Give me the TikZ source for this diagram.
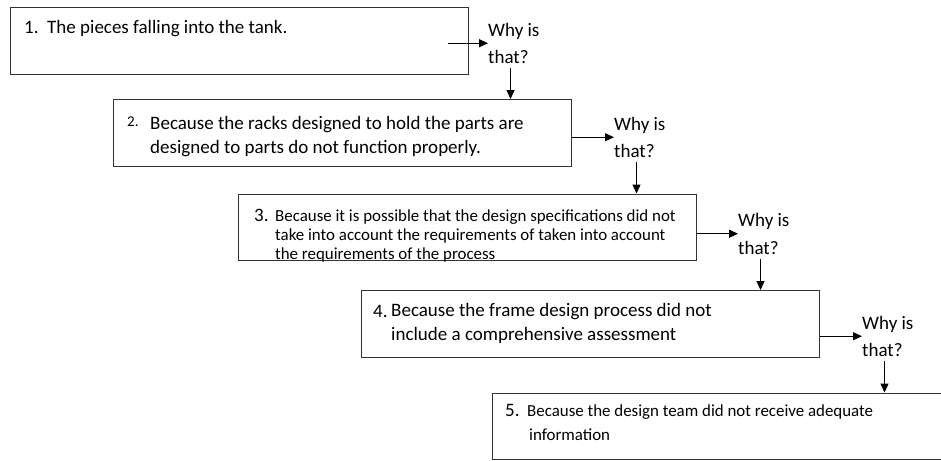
\documentclass[tikz,border=0pt]{standalone}
\usepackage{fontspec}
\setmainfont{Carlito}
\usetikzlibrary{arrows.meta,positioning}
\tikzset{
  box/.style={draw=black!80, line width=1.1pt, minimum width=458pt, minimum height=66.5pt, anchor=north west, inner sep=0pt},
  txt/.style={anchor=base west, inner sep=0pt, align=left, font=\fontsize{19}{24}\selectfont},
  smalltxt/.style={txt, font=\fontsize{16.9}{19}\selectfont},
  num/.style={anchor=base west, inner sep=0pt, font=\fontsize{19}{24}\selectfont},
  why/.style={anchor=base west, inner sep=0pt, align=left, font=\fontsize{19}{27.5}\selectfont},
  arr/.style={-{Triangle[length=9pt,width=8pt]}, line width=1.3pt},
}
\begin{document}
\begin{tikzpicture}[x=1pt,y=-1pt]
\useasboundingbox (0,0) rectangle (941,460);
% boxes
\node[box] (b1) at (9.5,7) {};
\node[box] (b2) at (113,99) {};
\node[box] (b3) at (238,193.5) {};
\node[box] (b4) at (360.5,290) {};
\node[box] (b5) at (491.5,392.5) {};

% texts in the boxes (placed at the baseline of their last line)
\node[num] (n1) at (24,34) {1.};
\node[txt] (t1) at (47,34) {The pieces falling into the tank.};
\node[num, font=\fontsize{15}{15}\selectfont] (n2) at (127,126) {2.};
\node[txt] (t2) at (150,153) {Because the racks designed to hold the parts are\\designed to parts do not function properly.};
\node[num] (n3) at (254,221) {3.};
\node[smalltxt] (t3) at (275,259) {Because it is possible that the design specifications did not\\take into account the requirements of taken into account\\the requirements of the process};
\node[num] (n4) at (373,317) {4.};
\node[txt] (t4) at (391,340) {Because the frame design process did not\\include a comprehensive assessment};
\node[num] (n5) at (505,416) {5.};
\node[smalltxt, font=\fontsize{16.9}{24}\selectfont] (t5) at (527,440) {Because the design team did not receive adequate\\\hspace{2pt}information};

% why is that?
\node[why] (w1) at (488,63.5) {Why is\\that?};
\node[why] (w2) at (614,157.5) {Why is\\that?};
\node[why] (w3) at (738,254) {Why is\\that?};
\node[why] (w4) at (862,356.5) {Why is\\that?};

% arrows
\coordinate (s1) at ([xshift=-21pt]b1.east);
\draw[arr] (s1 |- w1.west) -- (w1.west);
\draw[arr] (b2.east |- w2.west) -- (w2.west);
\draw[arr] (b3.east |- w3.west) -- (w3.west);
\draw[arr] (b4.east |- w4.west) -- (w4.west);
\foreach \w/\b in {w1/b2, w2/b3, w3/b4, w4/b5} {
  \coordinate (d) at ([xshift=22.5pt]\w.south west);
  \draw[arr] ([yshift=-4.5pt]d) -- (d |- \b.north);
}
\end{tikzpicture}
\end{document}
